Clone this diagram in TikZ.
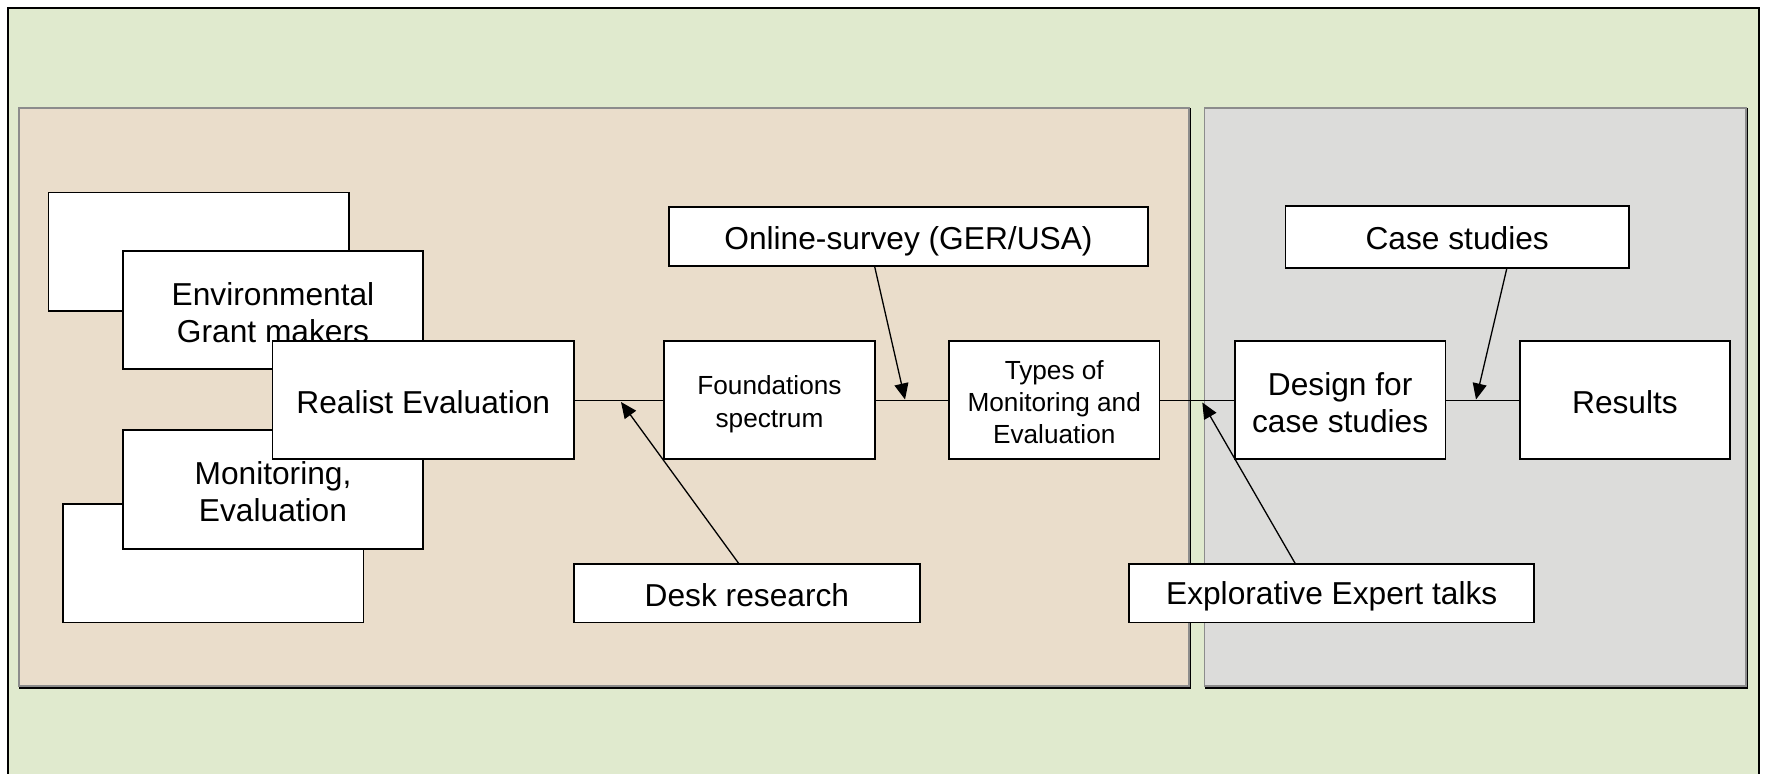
\documentclass[tikz,border=0pt]{standalone}
\usepackage{fontspec}
\setmainfont{Liberation Sans}
\usetikzlibrary{arrows.meta}
\definecolor{bgGreen}{RGB}{224,234,206}
\definecolor{panelBeige}{RGB}{234,221,203}
\definecolor{panelGray}{RGB}{220,220,218}
\definecolor{panelEdge}{RGB}{140,140,140}
\tikzset{
  box/.style={draw=black, fill=white, line width=0.85pt, inner sep=0pt},
  txt/.style={align=center, inner sep=0pt, font=\fontsize{15.85}{18.4}\selectfont},
  smalltxt/.style={align=center, inner sep=0pt, font=\fontsize{13.1}{16.2}\selectfont},
  link/.style={draw=black, line width=0.65pt},
  arr/.style={draw=black, line width=0.65pt, -{Triangle[length=8pt,width=7pt]}},
  panel/.style={draw=panelEdge, line width=0.8pt},
  shadowline/.style={draw=black, line width=0.9pt},
}
\begin{document}
\begin{tikzpicture}[x=0.5pt,y=-0.5pt]
\useasboundingbox (0,0) rectangle (1765,774);
\begin{scope}
\clip (0,0) rectangle (1765,774);
\draw[fill=bgGreen, line width=1pt] (8,8) rectangle (1759,800);
\end{scope}
% panels
\draw[panel, fill=panelBeige] (19,108) rectangle (1189,686);
\draw[shadowline] (1190.5,108) -- (1190.5,688) -- (19,688);
\draw[panel, fill=panelGray] (1204.5,108) rectangle (1746,686);
\draw[shadowline] (1747.5,108) -- (1747.5,688) -- (1204.5,688);
% left stacked boxes
\node[box, minimum width=150.3pt, minimum height=59.1pt] (blankA) at (198.7,251.6) {};
\node[box, minimum width=150.3pt, minimum height=59.1pt] (blankB) at (213.3,563.4) {};
\node[box, minimum width=150.3pt, minimum height=59.1pt,
  label={[txt, name=envText, yshift=-1.1pt]center:Environmental\\Grant makers}] (env) at (273,310.1) {};
\node[box, minimum width=150.3pt, minimum height=59.65pt,
  label={[txt, name=monitText, yshift=-1.1pt]center:Monitoring,\\Evaluation}] (monit) at (273,489.65) {};
\node[box, minimum width=150.85pt, minimum height=59.1pt,
  label={[txt, name=realistText, yshift=-0.8pt]center:Realist Evaluation}] (realist) at (423.25,400.2) {};
% main chain
\node[box, minimum width=105.25pt, minimum height=59.1pt,
  label={[smalltxt, name=foundText, yshift=-2.1pt]center:Foundations\\spectrum}] (found) at (769.45,400.2) {};
\node[box, minimum width=105.25pt, minimum height=59.1pt,
  label={[smalltxt, name=typesText, yshift=-1pt]center:Types of\\Monitoring and\\Evaluation}] (types) at (1054.25,400.2) {};
\node[box, minimum width=105.25pt, minimum height=59.1pt,
  label={[txt, name=designText, yshift=-1.1pt]center:Design for\\case studies}] (design) at (1340.15,400.2) {};
\node[box, minimum width=105.25pt, minimum height=59.1pt,
  label={[txt, name=resultsText, yshift=-0.8pt]center:Results}] (results) at (1624.95,400.2) {};
% input boxes
\node[box, minimum width=239.75pt, minimum height=29.5pt,
  label={[txt, name=onlineText, yshift=-2.6pt]center:Online-survey (GER/USA)}] (online) at (908.45,236.2) {};
\node[box, minimum width=172.8pt, minimum height=29.25pt,
  label={[txt, name=deskText, yshift=-1pt]center:Desk research}] (desk) at (746.9,593.25) {};
\node[box, minimum width=202.6pt, minimum height=29.25pt,
  label={[txt, name=explText, yshift=-1.7pt]center:Explorative Expert talks}] (expl) at (1331.7,593.25) {};
\node[box, minimum width=171.7pt, minimum height=31pt,
  label={[txt, name=casesText, yshift=-0.6pt]center:Case studies}] (cases) at (1457.2,237) {};
% chain links
\draw[link] (realist.east) -- (found.west);
\draw[link] (found.east) -- (types.west);
\draw[link] (types.east) -- (design.west);
\draw[link] (design.east) -- (results.west);
% arrow targets on the links
\coordinate (deskTip) at (621,402);
\coordinate (onlineTip) at (905,399.5);
\coordinate (explTip) at (1202.3,402.5);
\coordinate (casesTip) at (1476,399.5);
\draw[arr] ([xshift=-4.2pt]desk.north) -- (deskTip);
\draw[arr] ([xshift=-16.9pt]online.south) -- (onlineTip);
\draw[arr] ([xshift=-18.35pt]expl.north) -- (explTip);
\draw[arr] ([xshift=24.75pt]cases.south) -- (casesTip);
\end{tikzpicture}
\end{document}
